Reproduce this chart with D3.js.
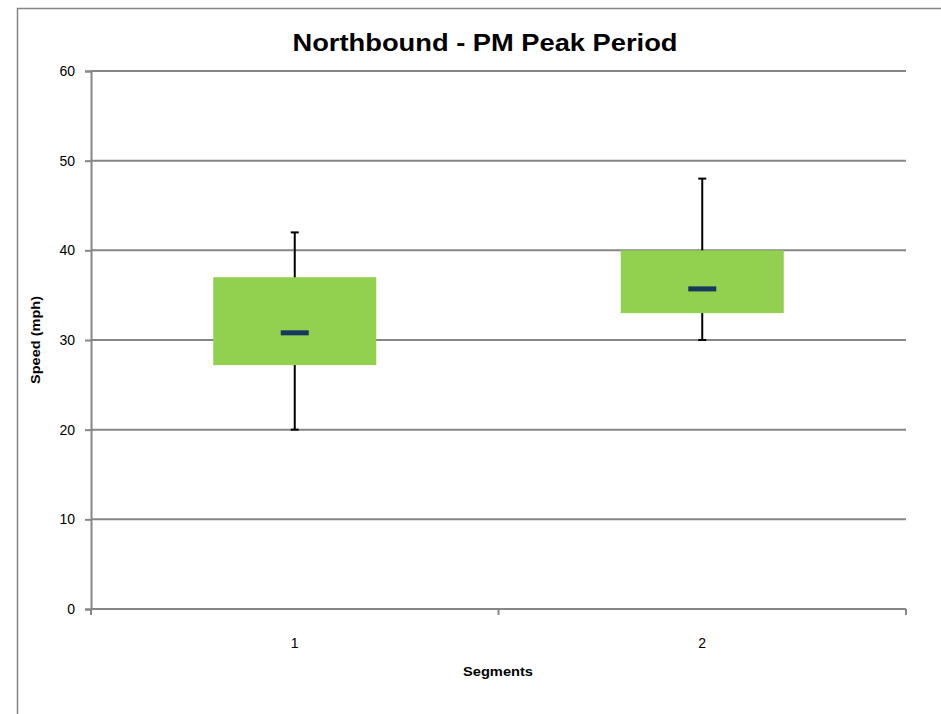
<!DOCTYPE html>
<html><head><meta charset="utf-8">
<script src="https://cdn.jsdelivr.net/npm/d3@7"></script>
<style>body{margin:0;background:#fff}svg{display:block}text{font-family:"Liberation Sans",Arial,sans-serif}</style>
</head><body>
<script>
const categories = ["1", "2"];
const whiskerLow = [20, 30];
const q1 = [27.2, 33];
const median = [30.8, 35.7];
const q3 = [37, 40];
const whiskerHigh = [42, 48];
const yTicks = [0, 10, 20, 30, 40, 50, 60];

const W = 941, H = 714;
const svg = d3.select("body").append("svg").attr("width", W).attr("height", H);
svg.append("rect").attr("x", 17.5).attr("y", 8.5).attr("width", 1000).attr("height", 1000)
  .attr("fill", "#fff").attr("stroke", "#868686").attr("stroke-width", 1.5);

const L = 91, R = 906, T = 71, B = 609;
const y = d3.scaleLinear().domain([0, 60]).range([B, T]);
const x = d3.scaleBand().domain(categories).range([L, R]).paddingInner(0).paddingOuter(0);

// grid
svg.append("g").selectAll("line").data(yTicks.filter(d => d > 0)).join("line")
  .attr("x1", L).attr("x2", R).attr("y1", d => y(d)).attr("y2", d => y(d))
  .attr("stroke", "#868686").attr("stroke-width", 2);

// y axis
const ya = svg.append("g").attr("transform", `translate(${L},0)`)
  .call(d3.axisLeft(y).tickValues(yTicks).tickSize(6).tickPadding(10));
ya.select(".domain").attr("stroke", "#868686").attr("stroke-width", 2);
ya.selectAll(".tick line").attr("stroke", "#868686").attr("stroke-width", 2);
ya.selectAll("text").attr("font-size", 14).attr("fill", "#000");

// x axis
const xa = svg.append("g").attr("transform", `translate(0,${B})`)
  .call(d3.axisBottom(x).tickSize(0).tickPadding(29));
xa.select(".domain").attr("stroke", "#868686").attr("stroke-width", 2).attr("d", `M${L},0H${R}`);
xa.selectAll("text").attr("font-size", 14).attr("fill", "#000");
const bounds = [L, ...categories.slice(1).map(c => x(c)), R];
svg.append("g").selectAll("line").data(bounds).join("line")
  .attr("x1", d => d).attr("x2", d => d).attr("y1", B).attr("y2", B + 6)
  .attr("stroke", "#868686").attr("stroke-width", 2);

const bw = x.bandwidth() * 0.4;
const data = categories.map((c, i) => ({c, lo: whiskerLow[i], q1: q1[i], med: median[i], q3: q3[i], hi: whiskerHigh[i]}));
const g = svg.append("g").selectAll("g").data(data).join("g")
  .attr("transform", d => `translate(${x(d.c) + x.bandwidth() / 2},0)`);
g.append("line").attr("x1", 0).attr("x2", 0).attr("y1", d => y(d.hi)).attr("y2", d => y(d.lo))
  .attr("stroke", "#000").attr("stroke-width", 2);
g.append("line").attr("x1", -4).attr("x2", 4).attr("y1", d => y(d.hi)).attr("y2", d => y(d.hi))
  .attr("stroke", "#000").attr("stroke-width", 2);
g.append("line").attr("x1", -4).attr("x2", 4).attr("y1", d => y(d.lo)).attr("y2", d => y(d.lo))
  .attr("stroke", "#000").attr("stroke-width", 2);
g.append("rect").attr("x", -bw / 2).attr("width", bw)
  .attr("y", d => y(d.q3)).attr("height", d => y(d.q1) - y(d.q3))
  .attr("fill", "#92D050");
g.append("rect").attr("x", -14).attr("width", 28)
  .attr("y", d => y(d.med) - 2.5).attr("height", 5).attr("fill", "#17375E");

svg.append("text").attr("x", 485).attr("y", 51).attr("text-anchor", "middle")
  .attr("font-size", 23).attr("font-weight", "bold")
  .attr("textLength", 385).attr("lengthAdjust", "spacingAndGlyphs").text("Northbound - PM Peak Period");
svg.append("text").attr("transform", "translate(40,340) rotate(-90)").attr("text-anchor", "middle")
  .attr("font-size", 12).attr("font-weight", "bold")
  .attr("textLength", 88).attr("lengthAdjust", "spacingAndGlyphs").text("Speed (mph)");
svg.append("text").attr("x", 498).attr("y", 676).attr("text-anchor", "middle")
  .attr("font-size", 13).attr("font-weight", "bold")
  .attr("textLength", 70).attr("lengthAdjust", "spacingAndGlyphs").text("Segments");
</script>
</body></html>
